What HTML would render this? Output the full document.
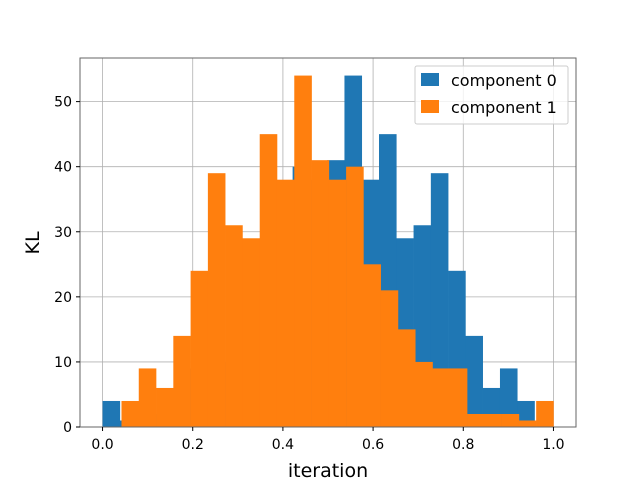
<!DOCTYPE html>
<html><head><meta charset="utf-8"><style>
body{margin:0;background:#fff}
svg text{font-family:"DejaVu Sans","Liberation Sans",sans-serif;fill:#000}
</style></head><body>
<svg id="chart" width="640" height="480" viewBox="0 0 640 480" xmlns="http://www.w3.org/2000/svg">
<g id="grid"></g>
<g id="bars"></g>
<rect x="80" y="58" width="496" height="369" fill="none" stroke="#666" stroke-width="1"/>
<g id="ticks"></g>
<text x="328" y="477" font-size="19" text-anchor="middle">iteration</text>
<text x="0" y="0" font-size="19" text-anchor="middle" transform="translate(39,243) rotate(-90)">KL</text>
<g>
<rect x="415" y="66" width="153" height="58" rx="2" fill="#fff" fill-opacity="0.8" stroke="#ccc"/>
<rect x="421" y="73" width="18" height="13" fill="#1f77b4"/>
<text x="451" y="86" font-size="16">component 0</text>
<rect x="421" y="100" width="18" height="13" fill="#ff7f0e"/>
<text x="451" y="113" font-size="16">component 1</text>
</g>
</svg>
<script>
const comp0Counts=[4,1,2,2,2,9,9,10,15,21,25,40,38,41,54,38,45,29,31,39,24,14,6,9,4];
const comp1Counts=[4,9,6,14,24,39,31,29,45,38,54,41,38,40,25,21,15,10,9,9,2,2,2,1,4];
const comp0Range=[0,0.958];
const comp1Range=[0.042,1.0];
const xTicks=[0,0.2,0.4,0.6,0.8,1.0];
const xTickLabels=["0.0","0.2","0.4","0.6","0.8","1.0"];
const yTicks=[0,10,20,30,40,50];
const NS="http://www.w3.org/2000/svg";
const L=80,R=576,T=58,B=427,xmin=-0.05,xmax=1.05,ymax=56.7;
const xs=v=>L+(v-xmin)/(xmax-xmin)*(R-L);
const ys=v=>B-v/ymax*(B-T);
function mk(tag,attrs,parent){const e=document.createElementNS(NS,tag);for(const k in attrs)e.setAttribute(k,attrs[k]);parent.appendChild(e);return e;}
const grid=document.getElementById('grid'),bars=document.getElementById('bars'),ticks=document.getElementById('ticks');
xTicks.forEach((t,i)=>{
 const g=mk('line',{x1:xs(t),x2:xs(t),y1:T,y2:B,stroke:'#b0b0b0','stroke-width':0.8},grid);
 
 
 const tk=mk('line',{x1:xs(t),x2:xs(t),y1:B,y2:B+4,stroke:'#000'},ticks);
 
 
 const tx=mk('text',{x:xs(t),y:B+22,'font-size':14,'text-anchor':'middle'},ticks);
 tx.textContent=xTickLabels[i];
 
 
});
yTicks.forEach(t=>{
 const g=mk('line',{x1:L,x2:R,y1:ys(t),y2:ys(t),stroke:'#b0b0b0','stroke-width':0.8},grid);
 
 
 const tk=mk('line',{x1:L-4,x2:L,y1:ys(t),y2:ys(t),stroke:'#000'},ticks);
 
 
 const tx=mk('text',{x:L-8,y:ys(t)+5,'font-size':14,'text-anchor':'end'},ticks);
 tx.textContent=String(t);
 
 
});
function drawHist(counts,range,color,name){
 const w=(range[1]-range[0])/counts.length;
 counts.forEach((c,i)=>{
  const x0=xs(range[0]+i*w),x1=xs(range[0]+(i+1)*w);
  const r=mk('rect',{x:x0,y:ys(c),width:x1-x0+0.3,height:ys(0)-ys(c),fill:color},bars);
  
  
 });
}
drawHist(comp0Counts,comp0Range,'#1f77b4','component-0');
drawHist(comp1Counts,comp1Range,'#ff7f0e','component-1');
</script>
</body></html>
